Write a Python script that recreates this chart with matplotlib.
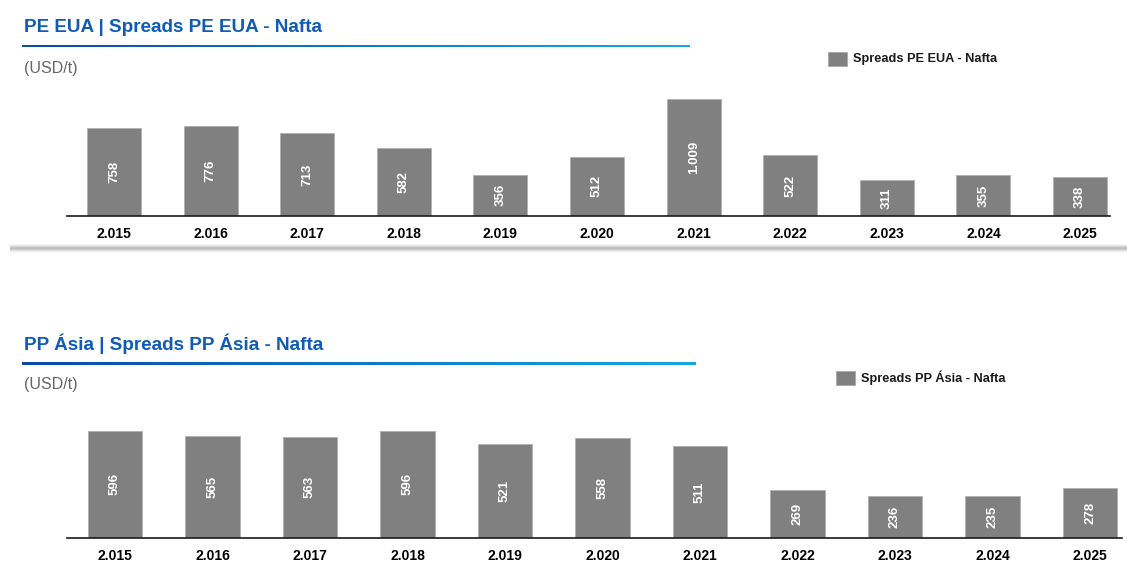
import matplotlib
matplotlib.use("Agg")
import matplotlib.pyplot as plt
import numpy as np
from matplotlib.patches import Rectangle
from matplotlib.colors import LinearSegmentedColormap

years = ["2.015", "2.016", "2.017", "2.018", "2.019", "2.020",
         "2.021", "2.022", "2.023", "2.024", "2.025"]
pe_eua = [758, 776, 713, 582, 356, 512, 1009, 522, 311, 355, 338]
pp_asia = [596, 565, 563, 596, 521, 558, 511, 269, 236, 235, 278]

W, H = 1127, 561
BAR = "#808080"
TITLE = "#0f5bb5"

plt.rcParams["font.family"] = ["Liberation Sans", "DejaVu Sans"]

fig = plt.figure(figsize=(W / 100, H / 100), dpi=100)
fig.patch.set_facecolor("white")


def px_axes(x0, y_top, x1, y_bottom):
    return fig.add_axes([x0 / W, 1 - y_bottom / H, (x1 - x0) / W, (y_bottom - y_top) / H])


def fmt(v):
    return f"{v:,}".replace(",", ".")


def gradient_line(x0, x1, y, c0="#0a4aa6", c1="#17a9dc"):
    ax = fig.add_axes([x0 / W, 1 - (y + 1.5) / H, (x1 - x0) / W, 3 / H])
    grad = np.linspace(0, 1, 256).reshape(1, -1)
    cmap = LinearSegmentedColormap.from_list("g", [c0, c1])
    ax.imshow(grad, aspect="auto", cmap=cmap, extent=[0, 1, 0, 1])
    ax.set_axis_off()


def panel(values, title, legend, title_y, line_x1, legend_x, legend_y,
          ax_box, xlim, ymax):
    fig.text(24 / W, 1 - title_y / H, title, color=TITLE, fontsize=13.6,
             fontweight="bold", va="center", ha="left")
    gradient_line(22, line_x1, title_y + 19)
    fig.text(24 / W, 1 - (title_y + 41) / H, "(USD/t)", color="#666666",
             fontsize=11.5, va="center", ha="left")
    fig.patches.append(Rectangle((legend_x / W, 1 - (legend_y + 7) / H), 19 / W, 14 / H,
                                 transform=fig.transFigure, facecolor=BAR,
                                 edgecolor="#a6a6a6", linewidth=0.6))
    fig.text((legend_x + 25) / W, 1 - legend_y / H, legend, fontsize=9.2,
             fontweight="bold", va="center", ha="left", color="#1a1a1a")

    ax = px_axes(*ax_box)
    x = np.arange(len(values))
    ax.bar(x, values, width=0.56, color=BAR, edgecolor="#b0b0b0", linewidth=0.6)
    for xi, v in zip(x, values):
        ax.text(xi, v / 2, fmt(v), rotation=90, ha="center", va="center",
                color="white", fontsize=9.5, fontweight="bold")
    ax.set_xlim(*xlim)
    ax.set_ylim(0, ymax)
    ax.set_xticks(x)
    ax.set_xticklabels(years, fontsize=10, fontweight="bold")
    ax.tick_params(axis="x", length=0, pad=8)
    ax.set_yticks([])
    for s in ["top", "right", "left"]:
        ax.spines[s].set_visible(False)
    ax.spines["bottom"].set_color("#1a1a1a")
    ax.spines["bottom"].set_linewidth(1.2)
    ax.patch.set_alpha(0)
    return ax


# soft card shadow under the first panel
for i, a in enumerate([0.04, 0.09, 0.16, 0.24, 0.26, 0.20, 0.12, 0.06, 0.03]):
    fig.patches.append(Rectangle((10 / W, 1 - (245 + i) / H), (W - 10) / W, 1 / H,
                                 transform=fig.transFigure, facecolor="black",
                                 alpha=a, linewidth=0))

panel(pe_eua, "PE EUA | Spreads PE EUA - Nafta", "Spreads PE EUA - Nafta",
      27, 690, 828, 59, (67, 90, 1110, 216), (-0.4865, 10.31), 126 / 0.116)
panel(pp_asia, "PP Ásia | Spreads PP Ásia - Nafta", "Spreads PP Ásia - Nafta",
      344, 696, 836, 378, (67, 420, 1122, 538),
      ((67 - 115) / 97.5, (1122 - 115) / 97.5), 118 / 0.18)

fig.savefig("out.png", dpi=100, facecolor="white")
